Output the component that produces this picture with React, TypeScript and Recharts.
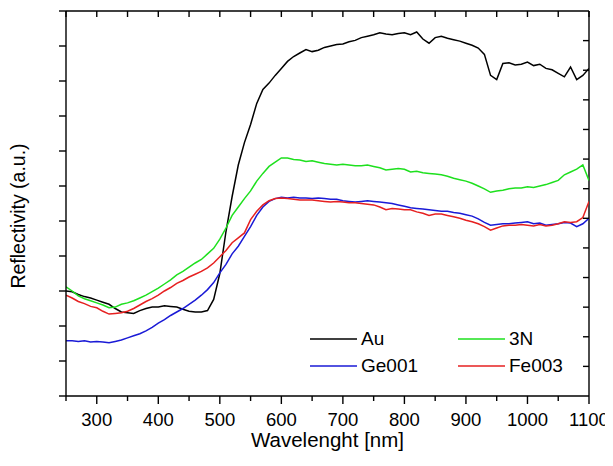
import React from 'react';
import { LineChart, Line, XAxis, YAxis, Legend, ReferenceLine } from 'recharts';

const FONT = '"Liberation Sans", Arial, Helvetica, sans-serif';

const wavelengths = [
  250, 260, 270, 280, 290, 300, 310, 320, 330, 340,
  350, 360, 370, 380, 390, 400, 410, 420, 430, 440,
  450, 460, 470, 480, 490, 500, 510, 520, 530, 540,
  550, 560, 570, 580, 590, 600, 610, 620, 630, 640,
  650, 660, 670, 680, 690, 700, 710, 720, 730, 740,
  750, 760, 770, 780, 790, 800, 810, 820, 830, 840,
  850, 860, 870, 880, 890, 900, 910, 920, 930, 940,
  950, 960, 970, 980, 990, 1000, 1010, 1020, 1030, 1040,
  1050, 1060, 1070, 1080, 1090, 1100,
];

const au = [
  1.50, 1.49, 1.45, 1.42, 1.40, 1.37, 1.34, 1.31, 1.25, 1.20,
  1.19, 1.18, 1.22, 1.25, 1.27, 1.27, 1.29, 1.28, 1.27, 1.24,
  1.21, 1.20, 1.20, 1.22, 1.38, 1.75, 2.35, 2.85, 3.30, 3.62,
  3.88, 4.18, 4.38, 4.47, 4.58, 4.68, 4.78, 4.85, 4.90, 4.95,
  4.92, 4.94, 4.98, 5.00, 5.02, 5.03, 5.06, 5.08, 5.12, 5.14,
  5.16, 5.19, 5.17, 5.16, 5.18, 5.19, 5.16, 5.20, 5.10, 5.04,
  5.12, 5.14, 5.11, 5.09, 5.07, 5.04, 5.01, 4.97, 4.88, 4.58,
  4.52, 4.75, 4.76, 4.73, 4.74, 4.77, 4.72, 4.74, 4.68, 4.66,
  4.61, 4.56, 4.70, 4.52, 4.58, 4.68,
];

const n3 = [
  1.56, 1.50, 1.43, 1.39, 1.36, 1.33, 1.30, 1.26, 1.27, 1.31,
  1.33, 1.36, 1.40, 1.44, 1.49, 1.54, 1.60, 1.66, 1.73, 1.78,
  1.84, 1.90, 1.95, 2.03, 2.11, 2.24, 2.40, 2.58, 2.70, 2.82,
  2.93, 3.07, 3.18, 3.28, 3.34, 3.40, 3.40, 3.38, 3.37, 3.35,
  3.36, 3.34, 3.32, 3.31, 3.30, 3.31, 3.30, 3.29, 3.29, 3.30,
  3.28, 3.26, 3.23, 3.24, 3.25, 3.24, 3.20, 3.21, 3.19, 3.18,
  3.17, 3.16, 3.14, 3.11, 3.09, 3.07, 3.04, 3.00, 2.96, 2.91,
  2.93, 2.94, 2.96, 2.97, 2.97, 2.99, 2.98, 3.00, 3.02, 3.05,
  3.08, 3.16, 3.20, 3.24, 3.30, 3.08,
];

const ge001 = [
  0.79, 0.79, 0.78, 0.79, 0.77, 0.78, 0.77, 0.76, 0.78, 0.80,
  0.83, 0.86, 0.89, 0.93, 0.98, 1.04, 1.09, 1.15, 1.20, 1.25,
  1.31, 1.37, 1.44, 1.52, 1.62, 1.76, 1.88, 2.03, 2.14, 2.28,
  2.42, 2.58, 2.70, 2.78, 2.82, 2.84, 2.83, 2.84, 2.83, 2.83,
  2.82, 2.83, 2.82, 2.81, 2.81, 2.79, 2.78, 2.77, 2.78, 2.79,
  2.78, 2.77, 2.76, 2.75, 2.73, 2.71, 2.69, 2.68, 2.67, 2.66,
  2.65, 2.64, 2.64, 2.62, 2.61, 2.59, 2.57, 2.53, 2.48, 2.44,
  2.45, 2.46, 2.46, 2.47, 2.48, 2.49, 2.46, 2.47, 2.44, 2.45,
  2.46, 2.48, 2.47, 2.42, 2.46, 2.54,
];

const fe003 = [
  1.44, 1.40, 1.35, 1.32, 1.28, 1.26, 1.21, 1.17, 1.18, 1.19,
  1.21, 1.25, 1.30, 1.35, 1.39, 1.44, 1.50, 1.55, 1.61, 1.65,
  1.70, 1.74, 1.78, 1.83, 1.90, 1.99, 2.08, 2.19, 2.26, 2.33,
  2.52, 2.64, 2.73, 2.79, 2.82, 2.83, 2.82, 2.81, 2.80, 2.80,
  2.80, 2.79, 2.78, 2.77, 2.78, 2.77, 2.76, 2.76, 2.75, 2.74,
  2.73, 2.70, 2.66, 2.68, 2.67, 2.66, 2.66, 2.63, 2.61, 2.58,
  2.60, 2.60, 2.58, 2.56, 2.54, 2.51, 2.49, 2.46, 2.42, 2.37,
  2.40, 2.43, 2.44, 2.44, 2.45, 2.44, 2.43, 2.45, 2.43, 2.44,
  2.46, 2.49, 2.48, 2.49, 2.55, 2.78,
];

// x ticks (bottom, mirrored on top): every 50 nm, labelled every 100 nm
const xTicks = [250, 300, 350, 400, 450, 500, 550, 600, 650, 700, 750, 800, 850, 900, 950, 1000, 1050, 1100];
// left y ticks (unlabelled), in data units
const leftTicks = [0, 0.5, 1, 1.5, 2, 2.5, 3, 3.5, 4, 4.5, 5, 5.5];
// right-side ticks: 13 equal divisions of the same frame (unlabelled)
const RIGHT_DIVISIONS = 13;
const rightTickSteps = [1, 2, 3, 4, 5, 6, 7, 8, 9, 10, 11, 12];
const Y_MAX = 5.5;
const X_MIN = 250;
const X_MAX = 1100;

const seriesList = [
  { key: 'au', name: 'Au', color: '#000000', values: au },
  { key: 'n3', name: '3N', color: '#1ee01e', values: n3 },
  { key: 'ge', name: 'Ge001', color: '#1a1ad6', values: ge001 },
  { key: 'fe', name: 'Fe003', color: '#e62020', values: fe003 },
];

const data = wavelengths.map((w, i) => {
  const row: Record<string, number> = { w };
  seriesList.forEach((s) => {
    row[s.key] = s.values[i];
  });
  return row;
});

const yTicksAll = [...leftTicks, ...rightTickSteps.map((k) => (k * Y_MAX) / RIGHT_DIVISIONS)];

// layout constants
const CHART_W = 605;
const CHART_H = 450;
const MARGIN = { top: 3, right: 24, bottom: 0, left: 0 };
const Y_AXIS_W = 58;
const X_AXIS_H = 62;
const PLOT_W = CHART_W - MARGIN.left - MARGIN.right - Y_AXIS_W;
const PLOT_H = CHART_H - MARGIN.top - MARGIN.bottom - X_AXIS_H;

const AXIS_STROKE = { stroke: '#000', strokeWidth: 1.4 };

const BottomTick = (props: any) => {
  const { x, y, payload } = props;
  const major = payload.value % 100 === 0;
  const topY = y - PLOT_H;
  return (
    <g>
      <line x1={x} x2={x} y1={y} y2={y + (major ? 8 : 5)} stroke="#000" strokeWidth={1.4} />
      <line x1={x} x2={x} y1={topY} y2={topY + 6} stroke="#000" strokeWidth={1.4} />
      {major && (
        <text x={x} y={y + 30} textAnchor="middle" fontSize={18.5} fontFamily={FONT} fill="#000">
          {payload.value}
        </text>
      )}
    </g>
  );
};

const LeftTick = (props: any) => {
  const { x, y, payload } = props;
  const isLeft = Number.isInteger(Math.round(payload.value * 2 * 1000) / 1000);
  if (isLeft) {
    return <line x1={x - 7} x2={x} y1={y} y2={y} stroke="#000" strokeWidth={1.4} />;
  }
  const rx = x + PLOT_W;
  return <line x1={rx - 6} x2={rx} y1={y} y2={y} stroke="#000" strokeWidth={1.4} />;
};

const XTitle = (props: any) => {
  const vb = props.viewBox || { x: Y_AXIS_W, y: MARGIN.top + PLOT_H, width: PLOT_W, height: X_AXIS_H };
  return (
    <text x={vb.x + vb.width / 2} y={vb.y + 51} textAnchor="middle" fontSize={20.5} fontFamily={FONT} fill="#000">
      Wavelenght [nm]
    </text>
  );
};

const YTitle = () => (
  <text
    x={0}
    y={0}
    transform="translate(17,208) rotate(-90)"
    textAnchor="middle"
    fontSize={19.5}
    fontFamily={FONT}
    fill="#000"
  >
    Reflectivity (a.u.)
  </text>
);

const LegendBox = () => (
  <div
    style={{
      display: 'grid',
      gridTemplateColumns: '148px 130px',
      fontFamily: FONT,
      fontSize: 19,
      color: '#000',
    }}
  >
    {seriesList.map((s) => (
      <div key={s.key} style={{ display: 'flex', alignItems: 'center', height: 27 }}>
        <svg width={47} height={4} style={{ marginRight: 4, display: 'block' }}>
          <line x1={0} x2={47} y1={2} y2={2} stroke={s.color} strokeWidth={1.5} />
        </svg>
        <span style={{ lineHeight: '27px' }}>{s.name}</span>
      </div>
    ))}
  </div>
);

export default function App() {
  return (
    <div style={{ fontFamily: FONT, width: CHART_W, height: CHART_H }}>
      <style>{'.recharts-surface{overflow:visible}'}</style>
      <LineChart width={CHART_W} height={CHART_H} data={data} margin={MARGIN}>
        <XAxis
          dataKey="w"
          type="number"
          domain={[X_MIN, X_MAX]}
          ticks={xTicks}
          interval={0}
          allowDataOverflow
          height={X_AXIS_H}
          tickSize={0}
          tickMargin={0}
          tickLine={false}
          axisLine={AXIS_STROKE}
          tick={BottomTick}
          label={<XTitle />}
        />
        <YAxis
          type="number"
          domain={[0, Y_MAX]}
          ticks={yTicksAll}
          interval={0}
          allowDataOverflow
          width={Y_AXIS_W}
          tickSize={0}
          tickMargin={0}
          tickLine={false}
          axisLine={AXIS_STROKE}
          tick={LeftTick}
          label={<YTitle />}
        />
        <ReferenceLine y={Y_MAX} stroke="#000" strokeWidth={1.4} ifOverflow="visible" />
        <ReferenceLine x={X_MAX} stroke="#000" strokeWidth={1.4} ifOverflow="visible" />
        <Legend
          layout="horizontal"
          verticalAlign="middle"
          content={() => <LegendBox />}
          wrapperStyle={{ position: 'absolute', left: 302, top: 317, width: 280, height: 54 }}
        />
        {seriesList.map((s) => (
          <Line
            key={s.key}
            dataKey={s.key}
            name={s.name}
            type="linear"
            stroke={s.color}
            strokeWidth={1.5}
            dot={false}
            activeDot={false}
            isAnimationActive={false}
          />
        ))}
      </LineChart>
    </div>
  );
}
